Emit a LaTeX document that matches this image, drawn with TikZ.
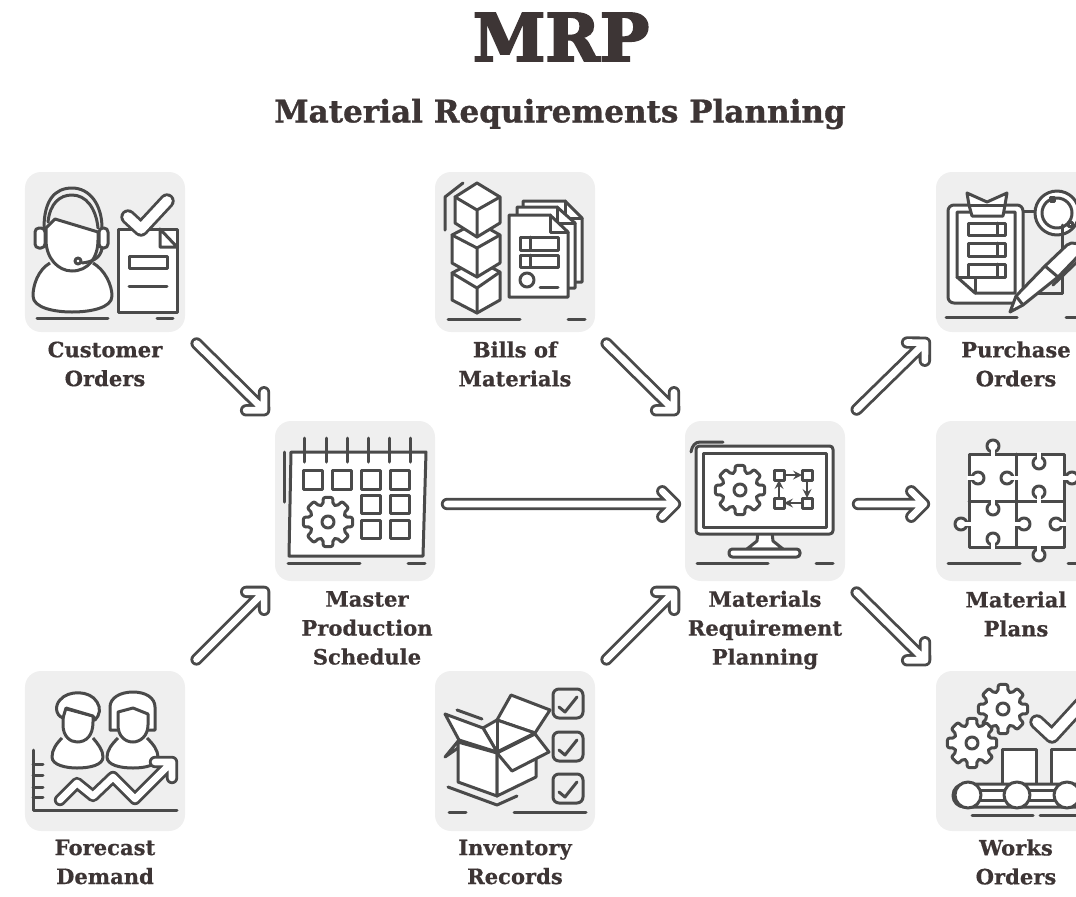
\documentclass[tikz,border=0pt]{standalone}
\usepackage{fontspec}
\usetikzlibrary{calc}
\newfontfamily\slabfont{DejaVu Serif Bold}[FakeBold=0.6]
\newfontfamily\subfont{DejaVu Serif Bold}[FakeBold=1]
\newfontfamily\headfont{DejaVu Serif Bold}[FakeBold=3]
\definecolor{ink}{HTML}{4A4A4A}
\definecolor{tilegray}{HTML}{EFEFEF}
\definecolor{textink}{HTML}{3D3535}
\tikzset{
 tile/.style={fill=tilegray,rounded corners=4.8mm,minimum size=48mm,inner sep=0pt},
 tag/.style={text=textink,align=center,inner sep=0pt,font=\slabfont\fontsize{18}{24.7}\selectfont},
 ico/.style={draw=ink,fill=white,line width=0.9mm,line join=round},
 ln/.style={draw=ink,line width=0.9mm,line cap=round,line join=round},
 gear/.pic={
  \draw[ico,rounded corners=0.6mm] (-16:18) \foreach \g in {0,45,...,315} {
   -- ({\g-11}:25) -- ({\g+11}:25) -- ({\g+16}:18) -- ({\g+29}:18)} -- cycle;
  \draw[ico] (0,0) circle (6);
 }
}
\newcommand{\tubearrow}[2]{
 \coordinate (s) at ($(#1)!4.8mm!(#2)$);
 \coordinate (e) at ($(#2)!4.5mm!(#1)$);
 \foreach \wd/\col in {3.7mm/ink,2mm/white}
  \draw[line width=\wd,draw=\col,line cap=round,line join=round] (s) -- (e) ($(e)!5.4mm!45:(s)$) -- (e) -- ($(e)!5.4mm!-45:(s)$);
}
\newcommand{\ticktube}[1]{
 \foreach \wd/\col in {4.6mm/ink,2.9mm/white}
  \draw[line width=\wd,draw=\col,line cap=round,line join=round] #1;
}
\begin{document}
\begin{tikzpicture}[x=0.3mm,y=-0.3mm]
\useasboundingbox (0,0) rectangle (1076,896);
\clip (0,0) rectangle (1076,896);

\node [text=textink,font=\headfont\fontsize{56}{56}\selectfont] (n10) at (561,37) {MRP};
\node [text=textink,font=\subfont\fontsize{26.5}{30}\selectfont] (n11) at (560,114) {Material Requirements Planning};

\node [tile] (n0) at (105,252) {};
\node [tile] (n1) at (515,252) {};
\node [tile] (n2) at (1016,252) {};
\node [tile] (n3) at (355,501) {};
\node [tile] (n4) at (765,501) {};
\node [tile] (n5) at (1016,501) {};
\node [tile] (n6) at (105,751) {};
\node [tile] (n7) at (515,751) {};
\node [tile] (n8) at (1016,751) {};

\node [tag] (l0) at (105,364) {Customer\\Orders};
\node [tag] (l1) at (515,364) {Bills of\\Materials};
\node [tag] (l2) at (1016,364) {Purchase\\Orders};
\node [tag] (l3) at (367,628) {Master\\Production\\Schedule};
\node [tag] (l4) at (765,630) {Materials\\Requirement\\Planning};
\node [tag] (l5) at (1016,614) {Material\\Plans};
\node [tag] (l6) at (105,862) {Forecast\\Demand};
\node [tag] (l7) at (515,862) {Inventory\\Records};
\node [tag] (l8) at (1016,862) {Works\\Orders};

\coordinate (h0) at (431,504);
\coordinate (h1) at (690,504);
\coordinate (h2) at (842,504);
\coordinate (h3) at (939,504);

\tubearrow{n0.south east}{n3.north west}
\tubearrow{n1.south east}{n4.north west}
\tubearrow{h0}{h1}
\tubearrow{n6.north east}{n3.south west}
\tubearrow{n7.north east}{n4.south west}
\tubearrow{n4.north east}{n2.south west}
\tubearrow{h2}{h3}
\tubearrow{n4.south east}{n8.north west}

\draw[ln] (37,318) -- (108,318) (157,318) -- (173,318);
\draw[ico] (50,263) .. controls (38,270) and (33,285) .. (33,296) .. controls (33,308) and (55,312) .. (72,312) .. controls (90,312) and (112,308) .. (112,296) .. controls (112,285) and (105,270) .. (93,263);
\draw[ico] (46,228) -- (46,240) .. controls (46,258) and (58,271) .. (72,271) .. controls (88,271) and (98,258) .. (98,240) -- (98,232) -- (55,219) -- cycle;
\draw[ln] (44,228) .. controls (44,200) and (55,188) .. (72,188) .. controls (90,188) and (102,205) .. (102,228);
\draw[ln] (48,222) .. controls (50,203) and (60,195) .. (72,195) .. controls (86,195) and (96,208) .. (98,228);
\draw[ico,rounded corners=1.2mm] (35,228) rectangle (45,248);
\draw[ico,rounded corners=1.2mm] (99,228) rectangle (108,248);
\draw[ln] (102,248) .. controls (101,258) and (92,262) .. (82,263);
\draw[ico] (78,261) circle (3);
\draw[ico] (118,229) -- (177,229) -- (177,312) -- (118,312) -- cycle;
\draw[ln] (160,229) -- (160,247) -- (177,247) -- cycle;
\draw[ln] (129,256) rectangle (167,268);
\draw[ln] (129,286) -- (167,286);
\ticktube{(128,217) -- (141,229) -- (167,201)}

\draw[ln] (448,319) -- (520,319) (568,319) -- (585,319);
\draw[ln] (445,230) -- (445,197) -- (463,183);
\draw[ico] (452,273) -- (477,260) -- (500,272) -- (500,300) -- (477,313) -- (452,300) -- cycle;
\draw[ln] (452,273) -- (477,288) -- (500,272) (477,288) -- (477,313);
\draw[ico] (452,235) -- (477,222) -- (500,235) -- (500,263) -- (477,277) -- (452,263) -- cycle;
\draw[ln] (452,235) -- (477,248) -- (500,235) (477,248) -- (477,277);
\draw[ico] (477,183) -- (500,197) -- (500,223) -- (477,237) -- (455,223) -- (455,197) -- cycle;
\draw[ln] (455,197) -- (477,210) -- (500,197) (477,210) -- (477,237);
\draw[ico] (523,201) -- (565,201) -- (582,218) -- (582,282) -- (523,282) -- cycle;
\draw[ln] (565,201) -- (565,218) -- (582,218);
\draw[ico] (517,207) -- (557,207) -- (575,223) -- (575,288) -- (517,288) -- cycle;
\draw[ln] (557,207) -- (557,223) -- (575,223);
\draw[ico] (509,215) -- (550,215) -- (568,232) -- (568,297) -- (509,297) -- cycle;
\draw[ln] (550,215) -- (550,232) -- (568,232);
\draw[ln] (520,237) rectangle (558,250) (520,255) rectangle (558,267);
\draw[ln] (530,237) -- (530,250) (530,255) -- (530,267);
\draw[ln] (527,280) circle (7);
\draw[ln] (540,287) -- (558,287);

\draw[ln] (946,317) -- (1017,317) (1066,317) -- (1090,317);
\draw[ln] (1023,211) -- (1062,211) -- (1062,293) -- (1000,293);
\draw[ico,rounded corners=1.8mm] (948,205) rectangle (1023,303);
\draw[ico] (957,212) -- (1015,212) -- (1015,293) -- (975,293) -- (957,277) -- cycle;
\draw[ln] (975,293) -- (975,277) -- (957,277);
\draw[ico] (967,193) -- (987,202) -- (1007,193) -- (1005,205) -- (1003,216) -- (972,216) -- (969,205) -- cycle;
\draw[ln] (970,205) -- (1004,205);
\foreach \ry/\rh in {223/12,243/13,264/13} {
 \draw[ln] (968,\ry) rectangle (1005,\ry+\rh);
 \draw[ln] (997,\ry) -- (997,\ry+\rh);
}
\draw[ico] (1057,213) circle (22);
\draw[ico] (1057,213) circle (15);
\draw[ln] (1050,197) rectangle (1054,201) (1068,222) rectangle (1072,226);
\draw[ln] (1062,225) -- (1062,293);
\draw[ico] (1010,312) -- (1016,296) -- (1045,266) -- (1067,245) .. controls (1072,241) and (1080,243) .. (1084,250) -- (1058,277) -- (1023,305) -- cycle;
\draw[ln] (1045,266) -- (1058,277) (1016,296) -- (1023,305) (1053,285) -- (1078,261);

\draw[ln] (288,563) -- (360,563) (408,563) -- (425,563);
\draw[ln] (284,452) -- (284,502);
\draw[ico] (291,452) -- (426,452) -- (423,556) -- (289,556) -- cycle;
\foreach \rx in {304,326,347,368,389,410}
 \draw[ln] (\rx,438) -- (\rx,462);
\foreach \qx in {303,332,361,390}
 \draw[ln] (\qx,470) rectangle (\qx+19,489);
\foreach \qx in {361,390} {
 \draw[ln] (\qx,495) rectangle (\qx+19,513);
 \draw[ln] (\qx,520) rectangle (\qx+19,538);
}
\pic at (328,522) {gear};

\draw[ln] (697,563) -- (768,563) (816,563) -- (833,563);
\draw[ln] (691,452) .. controls (692,446) and (695,442) .. (700,442) -- (723,442);
\draw[ico] (758,532) -- (757,541) -- (747,549) -- (783,549) -- (773,541) -- (772,532) -- cycle;
\draw[ico,rounded corners=1mm] (729,549) rectangle (800,557);
\draw[ico,rounded corners=1mm] (696,446) rectangle (833,534);
\draw[ln] (703,453) rectangle (826,527);
\pic at (740,490) {gear};
\draw[ln] (774,470) rectangle (784,480) (802,470) rectangle (812,480) (774,498) rectangle (784,508) (802,498) rectangle (812,508);
\draw[ln,line width=0.8mm,-stealth] (784,475) -- (802,475);
\draw[ln,line width=0.8mm,-stealth] (807,480) -- (807,498);
\draw[ln,line width=0.8mm,-stealth] (802,503) -- (784,503);
\draw[ln,line width=0.8mm,-stealth] (779,498) -- (779,480);

\draw[ln] (948,563) -- (1020,563) (1068,563) -- (1085,563);
\draw[ico] (969,454) rectangle (1064,547);
\draw[ln] (1016,454) -- (1016,547) (969,501) -- (1064,501);
\foreach \kx/\ky/\ex/\ey in {993/446/993/456,1039/463/1039/452,978/478/967/478,1007/478/1018/478,1039/492/1039/503,1072/478/1062/478,993/509/993/499,961/524/971/524,1024/524/1014/524,1056/524/1066/524,993/539/993/549,1039/555/1039/545} {
 \draw[ico] (\kx,\ky) circle (6);
 \draw[white,line width=1.2mm] (\kx,\ky) -- (\ex,\ey);
}

\draw[ln] (33,750) -- (33,810) -- (177,810);
\foreach \ty in {764,775,787,797}
 \draw[ln] (33,\ty) -- (43,\ty);
\draw[ico] (62,738) .. controls (56,744) and (52,750) .. (52,757) .. controls (52,765) and (66,768) .. (77,768) .. controls (90,768) and (103,765) .. (103,757) .. controls (103,750) and (98,744) .. (93,738);
\draw[ico] (63,708) -- (63,725) .. controls (63,736) and (70,742) .. (77,742) .. controls (86,742) and (93,736) .. (93,722) -- (93,716) -- cycle;
\draw[ico] (63,718) .. controls (55,715) and (55,705) .. (60,700) .. controls (68,690) and (90,690) .. (97,702) .. controls (101,708) and (100,715) .. (95,720) -- (93,716) -- (66,708) -- cycle;
\draw[ico] (118,738) .. controls (112,744) and (107,750) .. (107,757) .. controls (107,765) and (120,768) .. (133,768) .. controls (146,768) and (158,765) .. (158,757) .. controls (158,750) and (153,744) .. (147,738);
\draw[ico] (110,730) -- (110,707) .. controls (110,698) and (120,692) .. (133,692) .. controls (146,692) and (155,698) .. (155,707) -- (155,730) -- (147,730) -- (118,730) -- cycle;
\draw[ico] (118,712) -- (133,708) -- (148,714) -- (148,725) .. controls (148,736) and (140,742) .. (133,742) .. controls (125,742) and (118,736) .. (118,725) -- cycle;
\foreach \wd/\col in {3.7mm/ink,2mm/white}
 \draw[line width=\wd,draw=\col,line cap=round,line join=round] (60,800) -- (77,783) -- (93,796) -- (113,777) -- (135,799) -- (172,762) (155,762) -- (172,762) -- (172,778);

\draw[ln] (449,812) -- (466,812) (514,812) -- (586,812);
\draw[ln] (457,710) -- (482,719);
\draw[ln] (448,787) -- (497,805) -- (517,796);
\draw[ico] (497,720) -- (511,695) -- (550,710) -- (535,733) -- cycle;
\draw[ico] (483,728) -- (497,720) -- (535,733) -- (497,752) -- cycle;
\draw[ico] (459,740) -- (445,757) -- (458,748) -- cycle;
\draw[ico] (458,742) -- (497,753) -- (497,796) -- (458,782) -- cycle;
\draw[ico] (497,753) -- (536,735) -- (536,777) -- (497,796) -- cycle;
\draw[ico] (445,714) -- (483,728) -- (497,752) -- (459,740) -- cycle;
\draw[ico] (535,734) -- (549,752) -- (512,771) -- (497,753) -- cycle;
\draw[ln] (497,720) -- (497,752);
\foreach \cy in {689,732,774} {
 \draw[ln,rounded corners=1.8mm] (553,\cy) rectangle (583,\cy+29);
 \draw[ln] (559,\cy+18) -- (565,\cy+23) -- (577,\cy+8);
}

\draw[ln] (972,815) -- (1033,815) (1040,815) -- (1090,815);
\pic at (1003,709) {gear};
\pic at (972,743) {gear};
\draw[ico] (1002,749) rectangle (1036,784);
\draw[ico] (1051,749) rectangle (1090,784);
\ticktube{(1037,722) -- (1052,736) -- (1085,700)}
\draw[ico,rounded corners=3.4mm] (953,784) rectangle (1095,807);
\draw[ln] (968,790) -- (1090,790) (968,800) -- (1090,800);
\foreach \rx in {968,1017,1067}
 \draw[ico] (\rx,795) circle (13);
\end{tikzpicture}
\end{document}
